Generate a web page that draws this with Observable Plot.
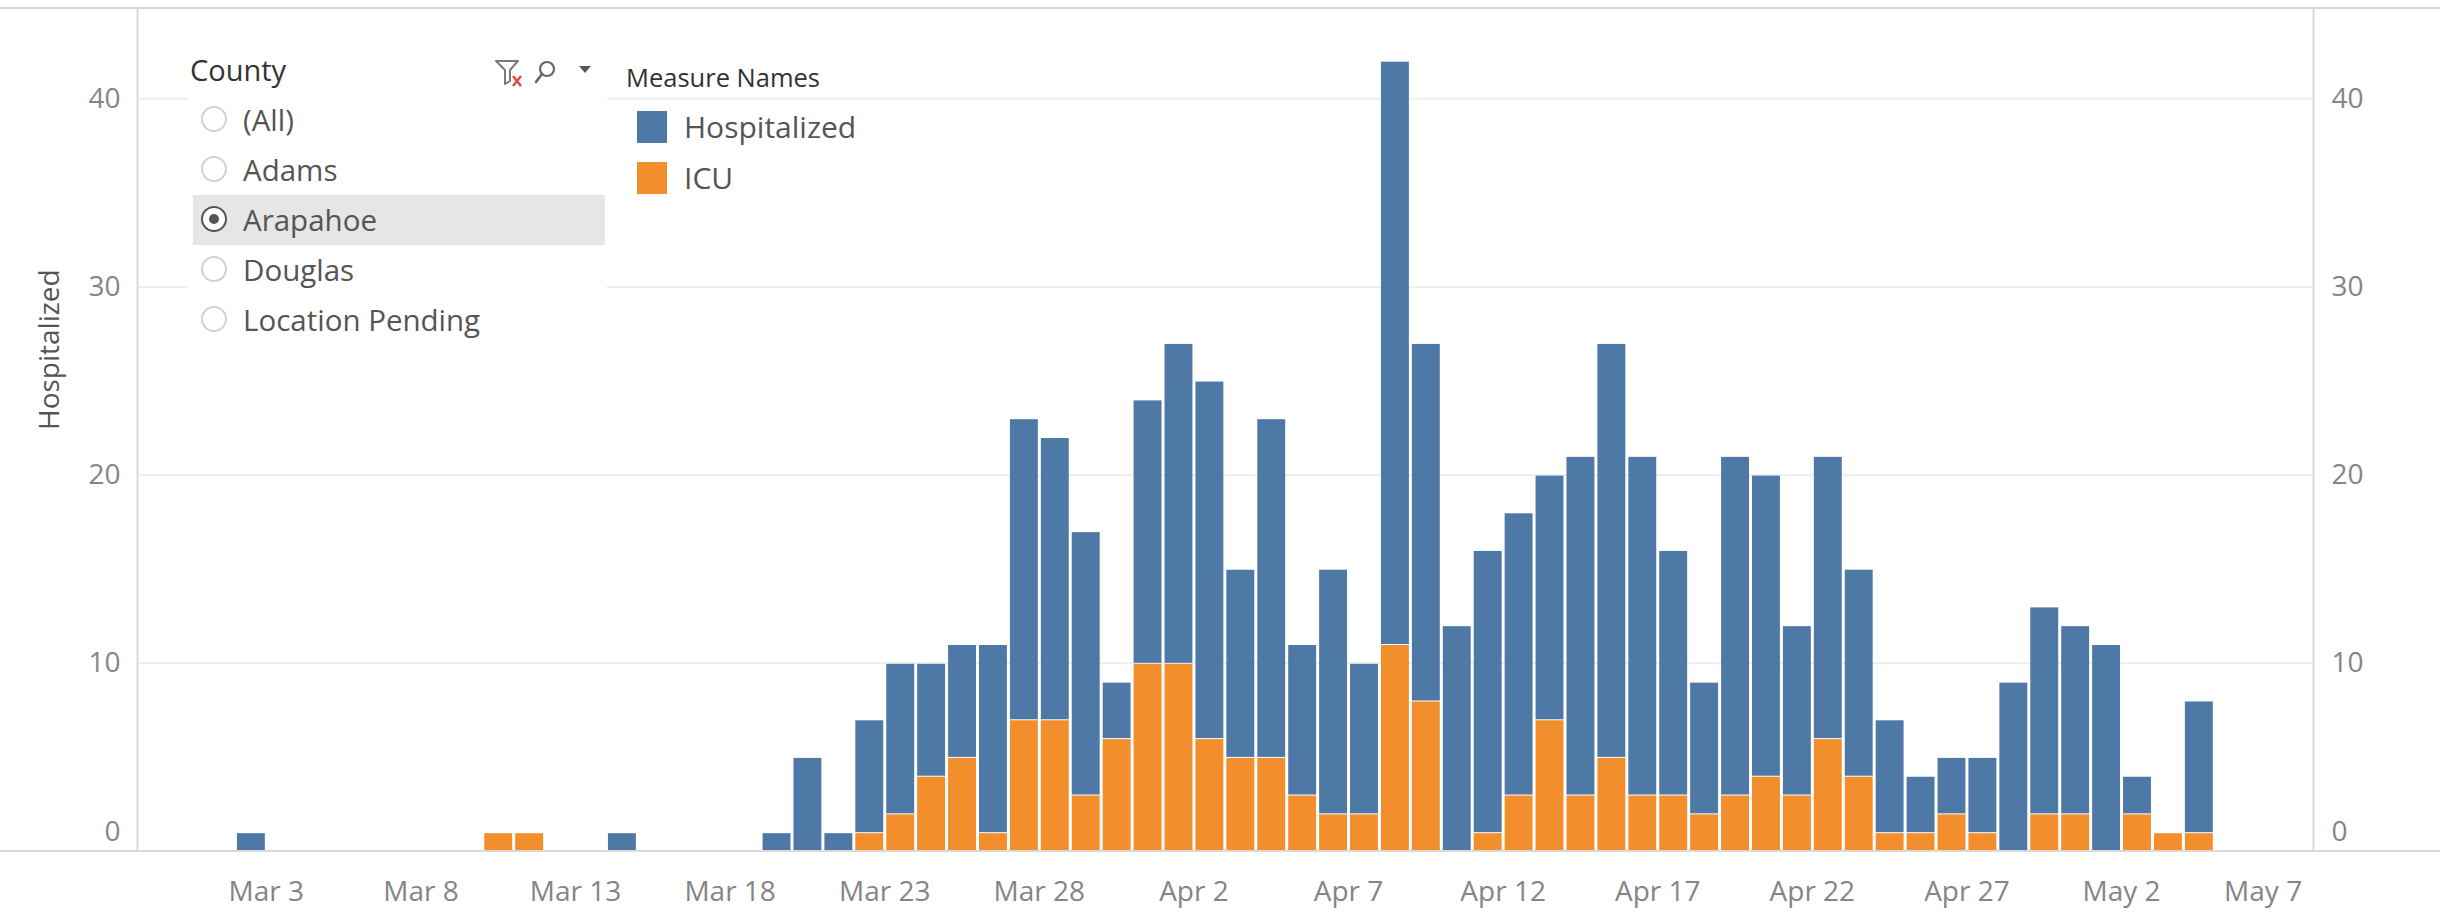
<!DOCTYPE html>
<html>
<head>
<meta charset="utf-8">
<script src="https://cdn.jsdelivr.net/npm/d3@7"></script>
<script src="https://cdn.jsdelivr.net/npm/@observablehq/plot@0.6"></script>
<style>
  html, body { margin: 0; padding: 0; background: #fff; overflow: hidden; }
  #wrap { position: relative; width: 2440px; height: 914px; font-family: "Open Sans", sans-serif; }
  #wrap svg { display: block; }
  .hline { position: absolute; left: 0; width: 2440px; height: 2px; background: #d9d9d9; }
  #filter { position: absolute; left: 187px; top: 40px; width: 420px; height: 305px; background: #fff; }
  .ftitle { position: absolute; left: 3px; top: 30px; font-size: 29px; line-height: 0; color: #333; }
  .icons { position: absolute; left: 306px; top: 16px; }
  .item { position: absolute; left: 6px; width: 412px; height: 50px; }
  .item.sel { background: #e6e6e6; }
  .radio { position: absolute; left: 8px; top: 11px; width: 26px; height: 26px; border: 2px solid #d2d2d2; border-radius: 50%; box-sizing: border-box; background: #fff; }
  .item.sel .radio { border-color: #555; }
  .item.sel .radio::after { content: ""; position: absolute; left: 6px; top: 6px; width: 10px; height: 10px; border-radius: 50%; background: #555; }
  .ilabel { position: absolute; left: 50px; top: 25px; line-height: 0; font-size: 29.5px; color: #555; white-space: nowrap; }
  #legend { position: absolute; left: 626px; top: 50px; }
  .ltitle { position: absolute; left: 0; top: 27px; line-height: 0; font-size: 25.5px; color: #333; white-space: nowrap; }
  .lrow { position: absolute; left: 11px; width: 300px; height: 32px; }
  .sw { position: absolute; left: 0; top: 0; width: 30px; height: 32px; }
  .ltext { position: absolute; left: 47px; top: 16px; line-height: 0; font-size: 30px; color: #555; white-space: nowrap; }
</style>
</head>
<body>
<div id="wrap"></div>
<script>
// ---- data ----
const dates = [
  "2020-03-03", "2020-03-11", "2020-03-12", "2020-03-15",
  "2020-03-20", "2020-03-21", "2020-03-22", "2020-03-23", "2020-03-24", "2020-03-25",
  "2020-03-26", "2020-03-27", "2020-03-28", "2020-03-29", "2020-03-30", "2020-03-31",
  "2020-04-01", "2020-04-02", "2020-04-03", "2020-04-04", "2020-04-05", "2020-04-06",
  "2020-04-07", "2020-04-08", "2020-04-09", "2020-04-10", "2020-04-11", "2020-04-12",
  "2020-04-13", "2020-04-14", "2020-04-15", "2020-04-16", "2020-04-17", "2020-04-18",
  "2020-04-19", "2020-04-20", "2020-04-21", "2020-04-22", "2020-04-23", "2020-04-24",
  "2020-04-25", "2020-04-26", "2020-04-27", "2020-04-28", "2020-04-29", "2020-04-30",
  "2020-05-01", "2020-05-02", "2020-05-03", "2020-05-04", "2020-05-05"
];
const hospitalized = [
  1, 0, 0, 1,
  1, 5, 1, 6, 8, 6,
  6, 10, 16, 15, 14, 3,
  14, 17, 19, 10, 18, 8,
  13, 8, 31, 19, 12, 15,
  15, 13, 18, 22, 18, 13,
  7, 18, 16, 9, 15, 11,
  6, 3, 3, 4, 9, 11,
  10, 11, 2, 0, 7
];
const icu = [
  0, 1, 1, 0,
  0, 0, 0, 1, 2, 4,
  5, 1, 7, 7, 3, 6,
  10, 10, 6, 5, 5, 3,
  2, 2, 11, 8, 0, 1,
  3, 7, 3, 5, 3, 3,
  2, 3, 4, 3, 6, 4,
  1, 1, 2, 1, 0, 2,
  2, 0, 2, 1, 1
];
const measures = ["Hospitalized", "ICU"];
const measureColors = ["#4e79a7", "#f28e2b"];
const stackOrder = ["ICU", "Hospitalized"];
const counties = ["(All)", "Adams", "Arapahoe", "Douglas", "Location Pending"];
const selectedCounty = "Arapahoe";
const filterTitle = "County";
const legendTitle = "Measure Names";
const yTitle = "Hospitalized";
const yTicks = [0, 10, 20, 30, 40];
const xTicks = ["2020-03-03", "2020-03-08", "2020-03-13", "2020-03-18", "2020-03-23", "2020-03-28",
  "2020-04-02", "2020-04-07", "2020-04-12", "2020-04-17", "2020-04-22", "2020-04-27",
  "2020-05-02", "2020-05-07"];
const xDomain = ["2020-02-27T20:00Z", "2020-05-08T05:00Z"];
const yDomain = [0, 44.8];

// ---- build long table ----
const rows = [];
dates.forEach((d, i) => {
  const date = new Date(d);
  if (icu[i] > 0) rows.push({date, measure: "ICU", value: icu[i]});
  if (hospitalized[i] > 0) rows.push({date, measure: "Hospitalized", value: hospitalized[i]});
});
const tickDates = xTicks.map(d => new Date(d));
const fmt = d3.utcFormat("%b %-d");
const tickColor = "#858585";

const chart = Plot.plot({
  width: 2440,
  height: 914,
  marginLeft: 137,
  marginRight: 127,
  marginTop: 8,
  marginBottom: 63,
  style: {fontFamily: "'Open Sans', sans-serif", fontSize: "28px", background: "transparent", color: tickColor},
  x: {type: "utc", domain: xDomain.map(d => new Date(d))},
  y: {domain: yDomain},
  color: {domain: measures, range: measureColors},
  marks: [
    Plot.gridY(yTicks.filter(v => v > 0), {stroke: "#ededed", strokeOpacity: 1, strokeWidth: 2}),
    Plot.ruleX(xDomain.map(d => new Date(d)), {stroke: "#d9d9d9", strokeWidth: 2}),
    Plot.rectY(rows, Plot.stackY({
      x: d => d3.utcDay.offset(d.date, -1),
      interval: "day",
      y: "value",
      fill: "measure",
      order: stackOrder,
      insetLeft: 2,
      insetRight: 1,
      insetTop: 1
    })),
    Plot.axisY(yTicks.filter(v => v > 0), {anchor: "left", tickSize: 0, tickPadding: 17, fontSize: 28, color: tickColor, label: null}),
    Plot.axisY([0], {anchor: "left", tickSize: 0, tickPadding: 17, fontSize: 28, color: tickColor, dy: -19, label: null}),
    Plot.axisY(yTicks.filter(v => v > 0), {anchor: "right", tickSize: 0, tickPadding: 18, fontSize: 28, color: tickColor, label: null}),
    Plot.axisY([0], {anchor: "right", tickSize: 0, tickPadding: 18, fontSize: 28, color: tickColor, dy: -19, label: null}),
    Plot.axisX(tickDates.slice(0, -1), {anchor: "bottom", tickSize: 0, tickPadding: 30, fontSize: 28, color: tickColor, tickFormat: fmt, label: null}),
    Plot.axisX(tickDates.slice(-1), {anchor: "bottom", tickSize: 0, tickPadding: 30, fontSize: 28, color: tickColor, tickFormat: fmt, label: null, dx: -13}),
    Plot.text([yTitle], {frameAnchor: "left", rotate: -90, dx: -87, fontSize: 28, fill: "#555"})
  ]
});

const wrap = document.getElementById("wrap");
wrap.appendChild(chart);

// full-width horizontal rules (top border and baseline)
for (const top of [7, 850]) {
  const l = document.createElement("div");
  l.className = "hline";
  l.style.top = top + "px";
  wrap.appendChild(l);
}

// ---- County quick filter ----
const filter = document.createElement("div");
filter.id = "filter";
filter.innerHTML = `<div class="ftitle">${filterTitle}</div>
<svg class="icons" width="110" height="36" viewBox="0 0 110 36">
  <path d="M3 5 H25 L17 14 V25 L12 28 V14 Z" fill="none" stroke="#7a7a7a" stroke-width="2" stroke-linejoin="round"/>
  <path d="M20 20 L28 30 M28 20 L20 30" stroke="#e0483a" stroke-width="2.4"/>
  <circle cx="54" cy="13" r="7" fill="none" stroke="#666" stroke-width="2.2"/>
  <path d="M49 18 L43 26" stroke="#666" stroke-width="2.6" stroke-linecap="round"/>
  <path d="M86 10 H98 L92 17 Z" fill="#555"/>
</svg>`;
counties.forEach((c, i) => {
  const it = document.createElement("div");
  it.className = "item" + (c === selectedCounty ? " sel" : "");
  it.style.top = (55 + i * 50) + "px";
  it.innerHTML = `<div class="radio"></div><div class="ilabel">${c}</div>`;
  filter.appendChild(it);
});
wrap.appendChild(filter);

// ---- colour legend ----
const legend = document.createElement("div");
legend.id = "legend";
legend.innerHTML = `<div class="ltitle">${legendTitle}</div>`;
measures.forEach((m, i) => {
  const r = document.createElement("div");
  r.className = "lrow";
  r.style.top = (61 + i * 51) + "px";
  r.innerHTML = `<div class="sw" style="background:${measureColors[i]}"></div><div class="ltext">${m}</div>`;
  legend.appendChild(r);
});
wrap.appendChild(legend);
</script>
</body>
</html>
